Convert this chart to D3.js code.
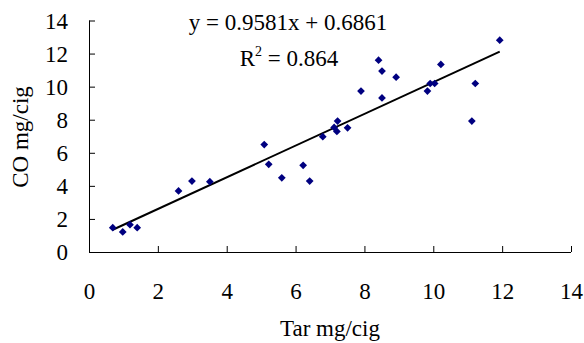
<!DOCTYPE html>
<html><head><meta charset="utf-8">
<script src="https://cdn.jsdelivr.net/npm/d3@7"></script>
<style>body{margin:0;background:#fff}svg{display:block}text{font-family:"Liberation Serif","Times New Roman",serif;fill:#000}</style>
</head><body><div id="c"></div>
<script>
const tar = [0.69,0.98,1.19,1.40,2.60,2.99,3.51,5.09,5.22,5.60,6.22,6.41,6.79,7.12,7.20,7.22,7.51,7.90,8.41,8.51,8.51,8.92,9.83,9.91,10.04,10.22,11.12,11.22,11.93];
const co  = [1.47,1.21,1.65,1.47,3.69,4.29,4.25,6.50,5.30,4.49,5.24,4.29,6.97,7.53,7.29,7.92,7.51,9.73,11.60,10.94,9.32,10.57,9.73,10.19,10.19,11.34,7.92,10.19,12.81];
const xTicks = [0,2,4,6,8,10,12,14];
const yTicks = [0,2,4,6,8,10,12,14];
const slope = 0.9581, intercept = 0.6861, r2 = "0.864";

const W=584,H=343;
const svg=d3.select("#c").append("svg").attr("width",W).attr("height",H);
const x=d3.scaleLinear().domain([0,14]).range([89,571]);
const y=d3.scaleLinear().domain([0,14]).range([252,20.5]);

const xa=svg.append("g").attr("transform",`translate(0,${y(0)})`)
  .call(d3.axisBottom(x).tickValues(xTicks).tickSize(-6).tickPadding(0).tickFormat(d3.format("d")));
xa.selectAll("text").attr("dy",null).attr("y",47).style("font-size","23px");
const ya=svg.append("g").attr("transform",`translate(${x(0)},0)`)
  .call(d3.axisLeft(y).tickValues(yTicks).tickSize(-6).tickPadding(0).tickFormat(d3.format("d")));
ya.selectAll("text").attr("x",-21).attr("dy","0.34em").style("font-size","23px");
xa.select(".domain").attr("stroke","#000").attr("d",`M${x(0)},0.5H${x(14)}`);
ya.select(".domain").attr("stroke","#000").attr("d",`M0.5,${y(14)}V${y(0)}`);
svg.selectAll(".tick line").attr("stroke","#000");
svg.selectAll(".tick text").attr("fill","#000");
svg.selectAll("g").attr("font-family",null).attr("font-size",null);

const [x0,x1]=d3.extent(tar);
svg.append("line").attr("x1",x(x0)).attr("y1",y(slope*x0+intercept))
  .attr("x2",x(x1)).attr("y2",y(slope*x1+intercept)).attr("stroke","#000").attr("stroke-width",2);

const sym=d3.symbol().type(d3.symbolSquare).size(30);
svg.append("g").selectAll("path").data(tar.map((t,i)=>[t,co[i]])).join("path")
  .attr("d",sym).attr("fill","#000080")
  .attr("transform",d=>`translate(${x(d[0])},${y(d[1])}) rotate(45)`);

svg.append("text").attr("x",288).attr("y",30).attr("text-anchor","middle").style("font-size","23px")
  .text(`y = ${slope}x + ${intercept}`);
const rt=svg.append("text").attr("x",289).attr("y",66).attr("text-anchor","middle").style("font-size","23px");
rt.append("tspan").text("R");
rt.append("tspan").attr("dy",-10).style("font-size","14px").text("2");
rt.append("tspan").attr("dy",10).text(` = ${r2}`);

svg.append("text").attr("x",330).attr("y",336).attr("text-anchor","middle").style("font-size","23px").text("Tar mg/cig");
svg.append("text").attr("transform",`translate(28,137) rotate(-90)`).attr("text-anchor","middle").style("font-size","23px").text("CO mg/cig");
</script></body></html>
